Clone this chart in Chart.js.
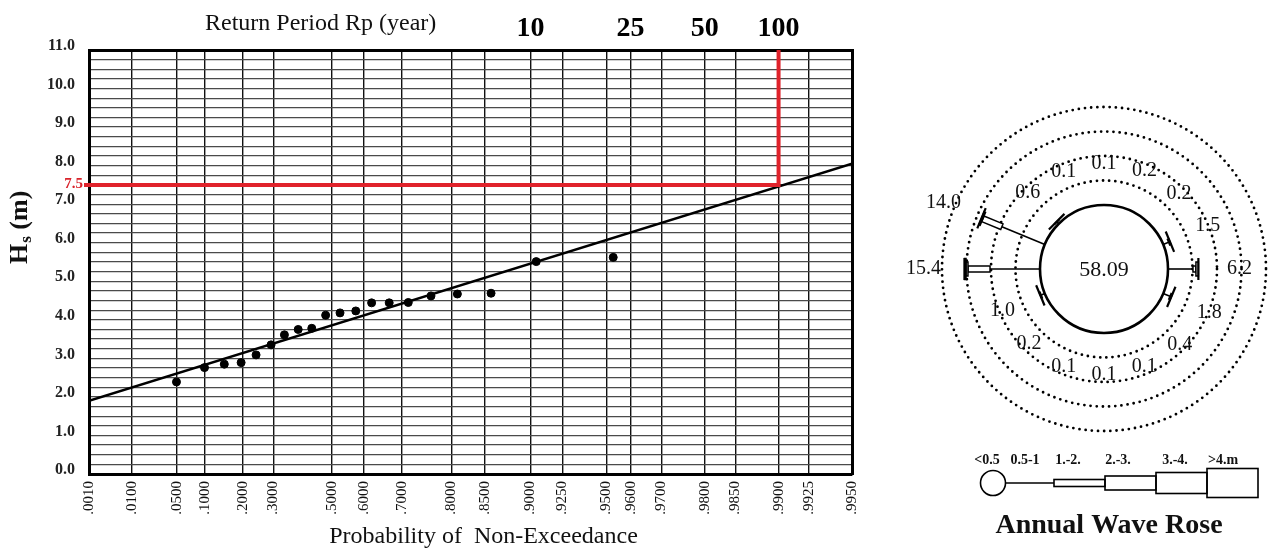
<!DOCTYPE html>
<html><head><meta charset="utf-8">
<script src="https://cdn.jsdelivr.net/npm/chart.js@4.4.1/dist/chart.umd.min.js"></script>
<style>
html,body{margin:0;padding:0;background:#fff;}
#wrap{position:relative;width:1268px;height:552px;overflow:hidden;background:#fff;}
#main{position:absolute;left:0;top:0;}
#rose{position:absolute;left:880px;top:0;}
</style></head><body>
<div id="wrap"><canvas id="main" width="1268" height="552"></canvas><canvas id="rose" width="388" height="552"></canvas></div>
<script>
// ---------- Probability plot data ----------
const P_TICKS = [0.001, 0.01, 0.05, 0.1, 0.2, 0.3, 0.5, 0.6, 0.7, 0.8, 0.85, 0.9, 0.925, 0.95, 0.96, 0.97, 0.98, 0.985, 0.99, 0.9925, 0.995];
const P_TICK_LABELS = ['.0010','.0100','.0500','.1000','.2000','.3000','.5000','.6000','.7000','.8000','.8500','.9000','.9250','.9500','.9600','.9700','.9800','.9850','.9900','.9925','.9950'];
const RP_VALUES = [10, 25, 50, 100];
const RP_LABELS = ['10', '25', '50', '100'];
const OBS_P  = [0.049, 0.099, 0.147, 0.195, 0.242, 0.292, 0.338, 0.386, 0.433, 0.480, 0.527, 0.576, 0.622, 0.669, 0.715, 0.763, 0.810, 0.858, 0.905, 0.953];
const OBS_HS = [2.39, 2.76, 2.85, 2.89, 3.09, 3.35, 3.61, 3.75, 3.78, 4.12, 4.18, 4.23, 4.44, 4.44, 4.45, 4.62, 4.67, 4.69, 5.51, 5.62];
const FIT_P  = [0.001, 0.995];
const FIT_HS = [1.90, 8.05];
const DESIGN_RP = 100;
const DESIGN_HS = 7.5;
const RED_START_R = -1.98;   // reduced variate where the red guide starts (just left of axis)
const Y_MIN = 0, Y_MAX = 11, Y_STEP = 0.25;

// ---------- Wave rose data (16 directions) ----------
const ROSE_DIRS   = ['N','NNE','NE','ENE','E','ESE','SE','SSE','S','SSW','SW','WSW','W','WNW','NW','NNW'];
const ROSE_TOTALS = [0.1, 0.2, 0.2, 1.5, 6.2, 1.8, 0.4, 0.1, 0.1, 0.1, 0.2, 1.0, 15.4, 14.0, 0.6, 0.1];
const ROSE_C05_1  = [0.1, 0.2, 0.2, 1.2, 5.1, 1.5, 0.4, 0.1, 0.1, 0.1, 0.2, 0.8, 10.2, 9.5, 0.5, 0.1];
const ROSE_C1_2   = [0, 0, 0, 0.3, 0.6, 0.3, 0, 0, 0, 0, 0, 0.2, 4.5, 4.2, 0.1, 0];
const ROSE_C2_3   = [0, 0, 0, 0, 0.5, 0, 0, 0, 0, 0, 0, 0, 0.4, 0.3, 0, 0];
const ROSE_C3_4   = [0, 0, 0, 0, 0, 0, 0, 0, 0, 0, 0, 0, 0.3, 0, 0, 0];
const ROSE_CGT4   = [0, 0, 0, 0, 0, 0, 0, 0, 0, 0, 0, 0, 0, 0, 0, 0];
const ROSE_CALM   = '58.09';
const ROSE_RINGS  = [5, 10, 15, 20];
const ROSE_LEGEND = ['<0.5', '0.5-1', '1.-2.', '2.-3.', '3.-4.', '>4.m'];

const gumbel = p => -Math.log(-Math.log(p));
const X_MIN = gumbel(P_TICKS[0]);
const X_MAX = gumbel(P_TICKS[P_TICKS.length - 1]);
const SERIF = "'Liberation Serif', 'DejaVu Serif', serif";

const textPlugin = {
  id: 'texts',
  afterDraw(chart) {
    const {ctx, chartArea: ca, scales} = chart;
    ctx.save();
    ctx.fillStyle = '#111';
    // top-left caption
    ctx.font = '24px ' + SERIF;
    ctx.textAlign = 'left'; ctx.textBaseline = 'middle';
    ctx.fillText('Return Period Rp (year)', 205, 24);
    // x-axis title
    ctx.textAlign = 'center';
    ctx.fillText('Probability of  Non-Exceedance', (ca.left + ca.right) / 2 + 13, 537);
    // red design value label
    ctx.fillStyle = '#d9232b';
    ctx.font = 'bold 15px ' + SERIF;
    ctx.textAlign = 'right';
    ctx.fillText(String(DESIGN_HS), ca.left - 6, scales.y.getPixelForValue(DESIGN_HS) - 1);
    // y-axis title H_s (m)
    ctx.fillStyle = '#111';
    ctx.translate(27, 264);
    ctx.rotate(-Math.PI / 2);
    ctx.textAlign = 'left'; ctx.textBaseline = 'alphabetic';
    ctx.font = 'bold 26px ' + SERIF;
    ctx.fillText('H', 0, 0);
    let w = ctx.measureText('H').width;
    ctx.font = 'bold 17px ' + SERIF;
    ctx.fillText('s', w + 1, 4);
    w += ctx.measureText('s').width + 1;
    ctx.font = 'bold 26px ' + SERIF;
    ctx.fillText(' (m)', w, 0);
    ctx.restore();
  }
};

new Chart(document.getElementById('main'), {
  type: 'scatter',
  data: {
    datasets: [
      { type: 'line', label: 'fit', data: FIT_P.map((p, i) => ({x: gumbel(p), y: FIT_HS[i]})),
        borderColor: '#000', borderWidth: 2.5, pointRadius: 0, order: 3 },
      { type: 'line', label: 'design',
        data: [{x: RED_START_R, y: DESIGN_HS}, {x: gumbel(1 - 1 / DESIGN_RP), y: DESIGN_HS}, {x: gumbel(1 - 1 / DESIGN_RP), y: Y_MAX}],
        borderColor: '#e0222b', borderWidth: 4, pointRadius: 0, clip: false, borderJoinStyle: 'miter', order: 2 },
      { type: 'scatter', label: 'obs', data: OBS_P.map((p, i) => ({x: gumbel(p), y: OBS_HS[i]})),
        backgroundColor: '#000', borderColor: '#000', pointRadius: 4, order: 1 }
    ]
  },
  options: {
    responsive: false, animation: false,
    layout: {padding: {left: 0, right: 416, top: 0, bottom: 0}},
    plugins: {legend: {display: false}, tooltip: {enabled: false}},
    scales: {
      x: {
        type: 'linear', position: 'bottom', min: X_MIN, max: X_MAX,
        afterBuildTicks: s => { s.ticks = P_TICKS.map(p => ({value: gumbel(p)})); },
        afterFit: s => { s.height = 78; },
        ticks: {autoSkip: false, minRotation: 90, maxRotation: 90, padding: 7, color: '#111',
                font: {family: SERIF, size: 15}, callback: (v, i) => P_TICK_LABELS[i]},
        grid: {color: '#111', lineWidth: 1.4, drawTicks: false},
        border: {color: '#000', width: 3}
      },
      xTop: {
        type: 'linear', position: 'top', min: X_MIN, max: X_MAX,
        afterBuildTicks: s => { s.ticks = RP_VALUES.map(rp => ({value: gumbel(1 - 1 / rp)})); },
        afterFit: s => { s.height = 50; },
        ticks: {autoSkip: false, maxRotation: 0, padding: 4, color: '#000',
                font: {family: SERIF, size: 28, weight: 'bold'}, callback: (v, i) => RP_LABELS[i]},
        grid: {display: false, drawTicks: false},
        border: {color: '#000', width: 3}
      },
      y: {
        type: 'linear', position: 'left', min: Y_MIN, max: Y_MAX,
        afterFit: s => { s.width = 89; },
        ticks: {stepSize: Y_STEP, autoSkip: false, padding: 14, labelOffset: -4, color: '#222',
                font: {family: SERIF, size: 16, weight: 'bold'},
                callback: v => (Math.abs(v - Math.round(v)) < 1e-9) ? v.toFixed(1) : ''},
        grid: {color: '#4a4a4a', lineWidth: 1.3, drawTicks: false},
        border: {color: '#000', width: 3}
      },
      yRight: {
        type: 'linear', position: 'right', min: Y_MIN, max: Y_MAX,
        afterFit: s => { s.width = 0; },
        ticks: {display: false}, grid: {display: false, drawTicks: false},
        border: {color: '#000', width: 3}
      }
    }
  },
  plugins: [textPlugin]
});

// ---------- Wave rose ----------
const INNER_R = 64;     // radius of calm circle (units)
const PCT_K = 4.9;      // units per percent
const CLASS_H = [0, 6, 14, 21, 29];
const CAP_H = 22;
const LABEL_GAP = 41;

const rosePlugin = {
  id: 'rose',
  afterDraw(chart) {
    const {ctx, scales: {x, y}} = chart;
    const P = (vx, vy) => [x.getPixelForValue(vx), y.getPixelForValue(vy)];
    const unit = x.getPixelForValue(1) - x.getPixelForValue(0);
    const [cx, cy] = P(0, 0);
    ctx.save();
    // dotted rings
    ctx.strokeStyle = '#000'; ctx.lineWidth = 2.8; ctx.lineCap = 'round';
    ctx.setLineDash([0, 6.2]);
    ROSE_RINGS.forEach(pct => {
      ctx.beginPath();
      ctx.arc(cx, cy, (INNER_R + PCT_K * pct) * unit, 0, Math.PI * 2);
      ctx.stroke();
    });
    ctx.setLineDash([]); ctx.lineCap = 'butt';
    // arms
    const classes = [ROSE_C05_1, ROSE_C1_2, ROSE_C2_3, ROSE_C3_4, ROSE_CGT4];
    ROSE_DIRS.forEach((d, i) => {
      const th = i * Math.PI / 8;
      const ux = Math.sin(th), uy = Math.cos(th);
      const nx = Math.cos(th), ny = -Math.sin(th);
      const total = ROSE_TOTALS[i];
      if (total >= 0.5) {
        let s = INNER_R;
        classes.forEach((arr, k) => {
          const v = arr[i]; if (!v) return;
          const e = s + PCT_K * v;
          if (k === 0) {
            ctx.lineWidth = 1.6; ctx.strokeStyle = '#000';
            ctx.beginPath();
            ctx.moveTo(...P(ux * s, uy * s)); ctx.lineTo(...P(ux * e, uy * e)); ctx.stroke();
          } else {
            const h = CLASS_H[k] / 2;
            ctx.beginPath();
            ctx.moveTo(...P(ux * s + nx * h, uy * s + ny * h));
            ctx.lineTo(...P(ux * e + nx * h, uy * e + ny * h));
            ctx.lineTo(...P(ux * e - nx * h, uy * e - ny * h));
            ctx.lineTo(...P(ux * s - nx * h, uy * s - ny * h));
            ctx.closePath();
            ctx.fillStyle = '#fff'; ctx.fill();
            ctx.lineWidth = 1.5; ctx.strokeStyle = '#000'; ctx.stroke();
          }
          s = e;
        });
        // end cap
        const endR = INNER_R + PCT_K * total;
        ctx.lineWidth = 2.2; ctx.strokeStyle = '#000';
        ctx.beginPath();
        ctx.moveTo(...P(ux * endR + nx * CAP_H / 2, uy * endR + ny * CAP_H / 2));
        ctx.lineTo(...P(ux * endR - nx * CAP_H / 2, uy * endR - ny * CAP_H / 2));
        ctx.stroke();
      }
      // label
      const lr = INNER_R + PCT_K * total + LABEL_GAP;
      ctx.fillStyle = '#111';
      ctx.font = '20px ' + SERIF;
      ctx.textAlign = 'center'; ctx.textBaseline = 'middle';
      ctx.fillText(total.toFixed(1), ...P(ux * lr, uy * lr));
    });
    // calm circle
    ctx.lineWidth = 2.6; ctx.strokeStyle = '#000';
    ctx.beginPath(); ctx.arc(cx, cy, INNER_R * unit, 0, Math.PI * 2); ctx.stroke();
    ctx.font = '22px ' + SERIF; ctx.fillStyle = '#111';
    ctx.textAlign = 'center'; ctx.textBaseline = 'middle';
    ctx.fillText(ROSE_CALM, cx, cy + 1);

    // legend (pixel layout relative to rose center)
    const ly = cy + 214;
    const lx0 = cx - 111;
    ctx.lineWidth = 1.6;
    ctx.beginPath(); ctx.arc(lx0, ly, 12.5, 0, Math.PI * 2); ctx.stroke();
    ctx.beginPath(); ctx.moveTo(lx0 + 12.5, ly); ctx.lineTo(lx0 + 61, ly); ctx.stroke();
    let rx = lx0 + 61;
    [7, 14, 21, 29].forEach(h => {
      ctx.strokeRect(rx, ly - h / 2, 51, h);
      rx += 51;
    });
    const labelX = [-117, -79, -36, 14, 71, 119];
    ctx.font = 'bold 14px ' + SERIF;
    ROSE_LEGEND.forEach((t, i) => ctx.fillText(t, cx + labelX[i], ly - 23));
    ctx.font = 'bold 28px ' + SERIF;
    ctx.fillText('Annual Wave Rose', cx + 5, cy + 257);
    ctx.restore();
  }
};

new Chart(document.getElementById('rose'), {
  type: 'scatter',
  data: {datasets: []},
  options: {
    responsive: false, animation: false,
    layout: {padding: 0},
    plugins: {legend: {display: false}, tooltip: {enabled: false}},
    scales: {
      x: {type: 'linear', min: -224, max: 164, display: false},
      y: {type: 'linear', min: -283, max: 269, display: false}
    }
  },
  plugins: [rosePlugin]
});
</script></body></html>
